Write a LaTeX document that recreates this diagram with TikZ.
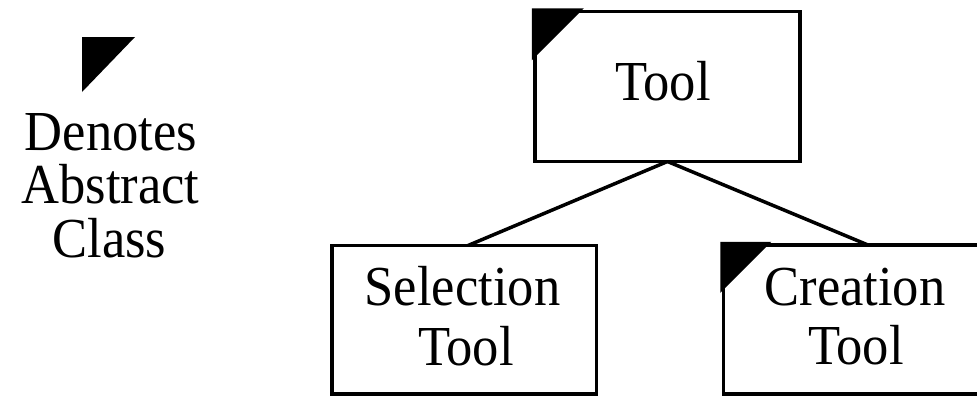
\documentclass[tikz,border=0pt]{standalone}
\usepackage{fontspec}
\setmainfont{Liberation Serif}[FakeStretch=0.93]
\begin{document}
\begin{tikzpicture}[x=1pt,y=-1pt,
  classbox/.style={draw=black, line width=3.2pt, fill=white, rectangle, inner sep=0pt},
  abstractmark/.style={fill=black, draw=none},
  link/.style={draw=black, line width=3.5pt},
  lbl/.style={font=\fontsize{56.5}{60}\selectfont, anchor=base, inner sep=0pt}]
  \clip (0,0) rectangle (977,397);
  \useasboundingbox (0,0) rectangle (977,397);

  % legend: the corner mark and its meaning
  \fill[abstractmark] (82,37) -- (135,37) -- (82,92) -- cycle;
  \node[lbl] (leg1) at (111,150) {Denotes};
  \node[lbl] (leg2) at (110.5,203.5) {Abstract};
  \node[lbl] (leg3) at (109.5,257) {Class};

  % inheritance links, drawn first so the boxes cover their ends
  \coordinate (selTop) at (468,245.5);
  \coordinate (creTop) at (868,245);
  \coordinate (apex) at (667.5,161.5);
  \draw[link] (selTop) -- (apex) -- (creTop);

  % class boxes
  \node[classbox, minimum width=265pt, minimum height=150pt] (tool) at (667.5,86.5) {};
  \node[classbox, minimum width=264.5pt, minimum height=148.5pt] (sel) at (464.25,319.75) {};
  \node[classbox, minimum width=265pt, minimum height=149pt] (cre) at (856,319.5) {};

  % abstract-class corner marks
  \fill[abstractmark] (tool.north west) ++(-1.6,-1.6) -- ++(52,0) -- ++(-52,52) -- cycle;
  \fill[abstractmark] (cre.north west) ++(-1.6,-1.6) -- ++(51,0) -- ++(-51,51) -- cycle;

  % class names
  \node[lbl] (toolname) at (663,100) {Tool};
  \node[lbl] (selname1) at (462.5,305) {Selection};
  \node[lbl] (selname2) at (466,365) {Tool};
  \node[lbl] (crename1) at (855,305) {Creation};
  \node[lbl] (crename2) at (856,364) {Tool};
\end{tikzpicture}
\end{document}
